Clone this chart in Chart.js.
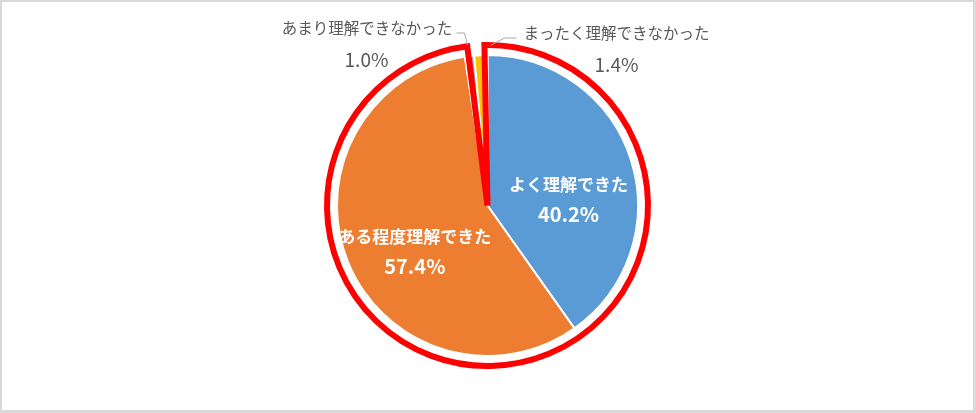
<!DOCTYPE html>
<html>
<head>
<meta charset="utf-8">
<script src="https://cdn.jsdelivr.net/npm/chart.js@4.4.0/dist/chart.umd.min.js"></script>
<style>
  html, body { margin: 0; padding: 0; background: #fff; }
  #wrap {
    width: 976px; height: 413px; box-sizing: border-box;
    border: 2px solid #d9d9d9; border-right-width: 3px; border-bottom-width: 3px;
    background: #fff;
  }
  canvas { display: block; }
</style>
</head>
<body>
<div id="wrap"><canvas id="rikaiChart" width="971" height="408"></canvas></div>
<script>
const categories = ['よく理解できた', 'ある程度理解できた', 'あまり理解できなかった', 'まったく理解できなかった'];
const shares = [40.2, 57.4, 1.0, 1.4];
const shareLabels = ['40.2%', '57.4%', '1.0%', '1.4%'];
const sliceColors = ['#5B9BD5', '#ED7D31', '#A5A5A5', '#FFC000'];

const jpFont = '"Noto Sans CJK JP", "Noto Sans", sans-serif';
const deg = Math.PI / 180;

// where each label sits: inside ones by angle (from top, clockwise) and radius ratio,
// outside ones by offset from the pie centre
const labelPlacement = [
    { inside: true, angle: 85.8, ratio: 0.54 },
    { inside: true, angle: 237.9, ratio: 0.57 },
    { inside: false, text: [-120.5, -177.5], pct: [-121, -145.5], leader: [[-20, -160.5], [-23, -172.5], [-31, -172.5]] },
    { inside: false, text: [129, -172.5], pct: [129, -140.5], leader: [[3, -160], [17, -167.5], [17, -167.5]] }
];

const pieDecor = {
    id: 'pieDecor',
    afterDatasetsDraw(chart) {
        const ctx = chart.ctx;
        const arcs = chart.getDatasetMeta(0).data;
        const cx = arcs[0].x;
        const cy = arcs[0].y;
        const r = arcs[0].outerRadius;

        // red frame round the two "understood" slices
        ctx.save();
        ctx.strokeStyle = '#FF0000';
        ctx.lineWidth = 6;
        ctx.lineJoin = 'miter';
        ctx.beginPath();
        ctx.moveTo(cx, cy);
        ctx.arc(cx, cy, r + 10, arcs[0].startAngle - 1.1 * deg, arcs[1].endAngle + 1.4 * deg);
        ctx.closePath();
        ctx.stroke();
        ctx.restore();

        ctx.save();
        ctx.textAlign = 'center';
        ctx.textBaseline = 'middle';
        labelPlacement.forEach((p, i) => {
            if (p.inside) {
                const rr = r * p.ratio;
                const x = cx + rr * Math.sin(p.angle * deg);
                const y = cy - rr * Math.cos(p.angle * deg);
                ctx.fillStyle = '#ffffff';
                ctx.font = 'bold 17px ' + jpFont;
                ctx.fillText(categories[i], x, y - 15);
                ctx.font = 'bold 20px ' + jpFont;
                ctx.fillText(shareLabels[i], x, y + 15);
            } else {
                ctx.strokeStyle = '#A6A6A6';
                ctx.lineWidth = 1;
                ctx.beginPath();
                p.leader.forEach((pt, k) => {
                    if (k === 0) ctx.moveTo(cx + pt[0], cy + pt[1]);
                    else ctx.lineTo(cx + pt[0], cy + pt[1]);
                });
                if (p.leader[2][0] === p.leader[1][0]) ctx.lineTo(cx + p.leader[1][0] + 12, cy + p.leader[1][1]);
                ctx.stroke();
                ctx.fillStyle = '#595959';
                ctx.font = '15.5px ' + jpFont;
                ctx.fillText(categories[i], cx + p.text[0], cy + p.text[1]);
                ctx.font = '19px ' + jpFont;
                ctx.fillText(shareLabels[i], cx + p.pct[0], cy + p.pct[1]);
            }
        });
        ctx.restore();
    }
};

const rikaiConfig = {
    type: 'pie',
    data: {
        labels: categories,
        datasets: [{
            data: shares,
            backgroundColor: sliceColors,
            borderColor: '#ffffff',
            borderWidth: 2
        }]
    },
    options: {
        responsive: false,
        animation: false,
        layout: { padding: { top: 52, bottom: 53, left: 0, right: 0 } },
        plugins: {
            legend: { display: false },
            tooltip: { enabled: false }
        }
    },
    plugins: [pieDecor]
};

const rikaiChart = new Chart(document.getElementById('rikaiChart'), rikaiConfig);
</script>
</body>
</html>
